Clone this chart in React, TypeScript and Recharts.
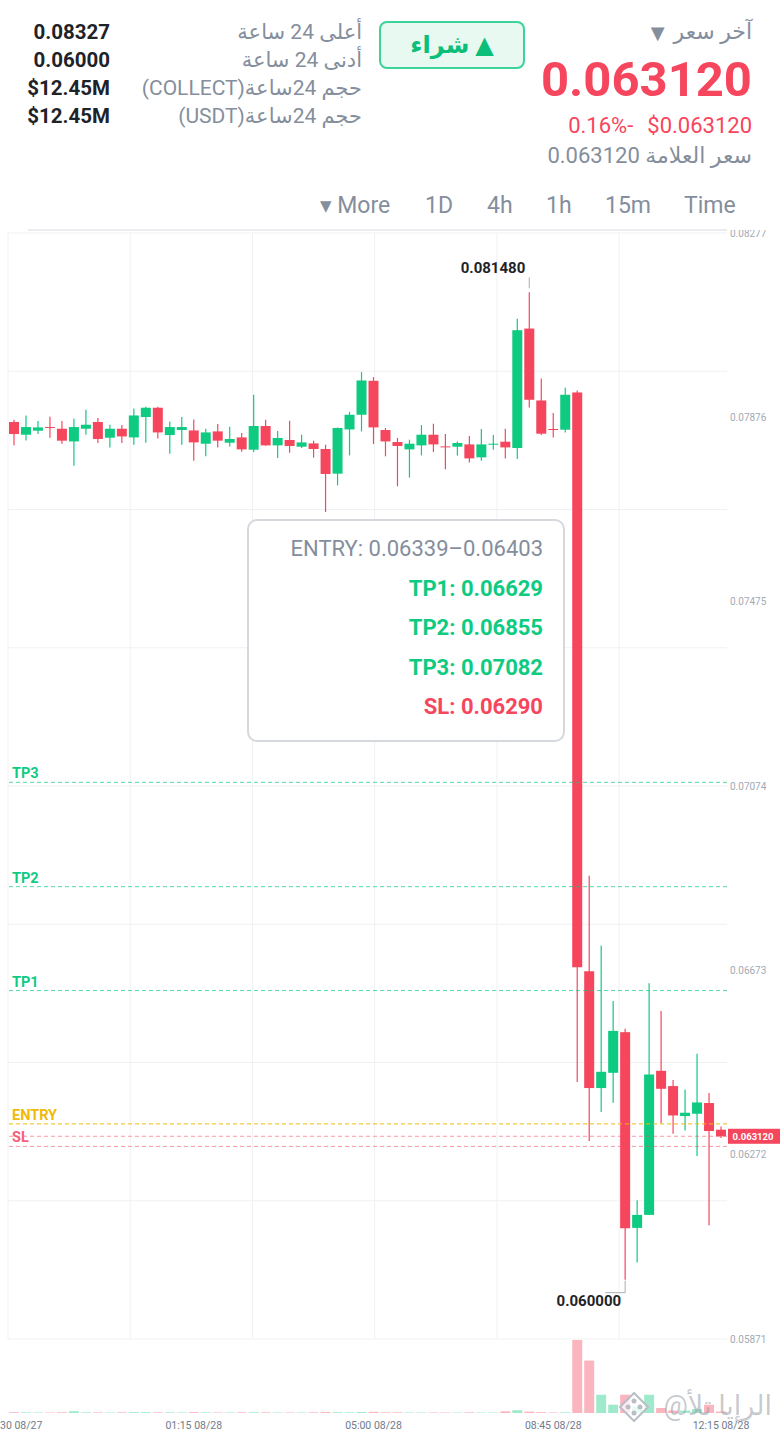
import React from "react";
import {
  ComposedChart,
  BarChart,
  Bar,
  XAxis,
  YAxis,
  CartesianGrid,
  ReferenceLine,
  ReferenceDot,
  Cell,
} from "recharts";

const GREEN = "#0ecb81";
const RED = "#f6465d";
const GRAY = "#848e9c";
const DARK = "#1e2329";
const FONT = "Roboto, 'DejaVu Sans', sans-serif";

// 15m candles, 21:30 08/27 -> 12:15 08/28
const times = [
  "21:30 08/27", "21:45 08/27", "22:00 08/27", "22:15 08/27", "22:30 08/27", "22:45 08/27",
  "23:00 08/27", "23:15 08/27", "23:30 08/27", "23:45 08/27", "00:00 08/28", "00:15 08/28",
  "00:30 08/28", "00:45 08/28", "01:00 08/28", "01:15 08/28", "01:30 08/28", "01:45 08/28",
  "02:00 08/28", "02:15 08/28", "02:30 08/28", "02:45 08/28", "03:00 08/28", "03:15 08/28",
  "03:30 08/28", "03:45 08/28", "04:00 08/28", "04:15 08/28", "04:30 08/28", "04:45 08/28",
  "05:00 08/28", "05:15 08/28", "05:30 08/28", "05:45 08/28", "06:00 08/28", "06:15 08/28",
  "06:30 08/28", "06:45 08/28", "07:00 08/28", "07:15 08/28", "07:30 08/28", "07:45 08/28",
  "08:00 08/28", "08:15 08/28", "08:30 08/28", "08:45 08/28", "09:00 08/28", "09:15 08/28",
  "09:30 08/28", "09:45 08/28", "10:00 08/28", "10:15 08/28", "10:30 08/28", "10:45 08/28",
  "11:00 08/28", "11:15 08/28", "11:30 08/28", "11:45 08/28", "12:00 08/28", "12:15 08/28",
];

const opens = [
  0.078658, 0.078382, 0.078469, 0.078549, 0.078512, 0.078236, 0.078512, 0.078658, 0.078317, 0.078512,
  0.078323, 0.078767, 0.078969, 0.078375, 0.078484, 0.078475, 0.078186, 0.078454, 0.078208, 0.078323,
  0.078056, 0.078571, 0.07815, 0.078267, 0.078121, 0.078193, 0.078071, 0.077535, 0.078497, 0.078816,
  0.079555, 0.078484, 0.078223, 0.078063, 0.07815, 0.078382, 0.078128, 0.078121, 0.078171, 0.077889,
  0.078171, 0.07823, 0.078093, 0.080691, 0.079127, 0.078506, 0.078491, 0.079301, 0.06671, 0.064169,
  0.064501, 0.065385, 0.061127, 0.06141, 0.064544, 0.064212, 0.06356, 0.06361, 0.063843, 0.063263,
];
const highs = [
  0.078708, 0.078801, 0.07868, 0.078773, 0.07868, 0.07873, 0.078925, 0.078745, 0.078599, 0.078593,
  0.078953, 0.07899, 0.07899, 0.078671, 0.078767, 0.078714, 0.078512, 0.078614, 0.078556, 0.078419,
  0.079251, 0.078708, 0.078462, 0.078686, 0.078382, 0.078252, 0.078165, 0.078541, 0.078875, 0.079744,
  0.079635, 0.078528, 0.07831, 0.078273, 0.078593, 0.078621, 0.078397, 0.078236, 0.078354, 0.078506,
  0.078375, 0.078512, 0.080902, 0.08148, 0.079605, 0.078853, 0.079403, 0.079344, 0.068787, 0.067266,
  0.066065, 0.065457, 0.061727, 0.06645, 0.065848, 0.064342, 0.064138, 0.064914, 0.06406, 0.063334,
];
const lows = [
  0.07815, 0.078258, 0.078397, 0.078317, 0.078186, 0.077709, 0.078382, 0.078202, 0.078106, 0.078202,
  0.078165, 0.078208, 0.078302, 0.077969, 0.078165, 0.077817, 0.077911, 0.078106, 0.078128, 0.078013,
  0.078006, 0.078143, 0.077876, 0.077991, 0.078093, 0.077882, 0.0767, 0.077281, 0.077932, 0.078454,
  0.07818, 0.077911, 0.077259, 0.077448, 0.077932, 0.078006, 0.077628, 0.077932, 0.07778, 0.077817,
  0.078056, 0.077867, 0.077854, 0.078975, 0.078375, 0.078323, 0.078432, 0.064299, 0.063017, 0.063647,
  0.063849, 0.06, 0.060374, 0.061405, 0.063408, 0.063176, 0.063248, 0.062691, 0.061184, 0.063083,
];
const closes = [
  0.078397, 0.078549, 0.078541, 0.078528, 0.078252, 0.078549, 0.078599, 0.078289, 0.078512, 0.078345,
  0.078801, 0.078969, 0.078432, 0.078549, 0.078549, 0.078215, 0.078432, 0.078252, 0.078289, 0.078063,
  0.078571, 0.07815, 0.07831, 0.078137, 0.078215, 0.078071, 0.077528, 0.078528, 0.078816, 0.079562,
  0.078541, 0.078236, 0.078137, 0.078186, 0.078382, 0.078171, 0.078115, 0.078202, 0.077867, 0.078171,
  0.078186, 0.078106, 0.080656, 0.079142, 0.078404, 0.078491, 0.079251, 0.066797, 0.064169, 0.064523,
  0.065413, 0.061119, 0.06141, 0.064464, 0.064153, 0.063573, 0.063632, 0.063856, 0.063235, 0.06312,
];
// volume, millions of COLLECT
const volumes = [
  0.5, 0.4, 0.3, 0.3, 0.5, 1.1, 0.4, 0.4, 0.3, 0.4,
  0.5, 0.5, 0.4, 0.4, 0.3, 0.5, 0.4, 0.3, 0.3, 0.4,
  0.5, 0.4, 0.3, 0.3, 0.3, 0.4, 0.6, 0.5, 0.4, 0.6,
  0.7, 0.4, 0.4, 0.3, 0.3, 0.3, 0.3, 0.3, 0.4, 0.3,
  0.3, 1.0, 1.7, 0.8, 0.5, 0.3, 0.4, 44.0, 31.6, 11.0,
  5.0, 11.0, 4.0, 11.0, 3.0, 1.5, 1.5, 2.4, 5.0, 0.9,
];

const priceTicks = [0.05871, 0.06272, 0.06673, 0.07074, 0.07475, 0.07876, 0.08277];
const timeTicks = ["21:30 08/27", "01:15 08/28", "05:00 08/28", "08:45 08/28", "12:15 08/28"];
const gridCols = [0, 0.17, 0.34, 0.51, 0.68, 0.85];
const gridRows = [0, 0.125, 0.25, 0.375, 0.5, 0.625, 0.75, 0.875, 1];

const entryRange = [0.06339, 0.06403];
const targets = [0.06629, 0.06855, 0.07082];
const stopLoss = 0.0629;
const lastPrice = 0.06312;
const changePct = "0.16%-";

const statLabels = ["أعلى 24 ساعة", "أدنى 24 ساعة", "حجم 24ساعة(COLLECT)", "حجم 24ساعة(USDT)"];
const statValues = ["0.08327", "0.06000", "$12.45M", "$12.45M"];
const tabs = [
  { label: "▾ More", x: 320 },
  { label: "1D", x: 425 },
  { label: "4h", x: 487 },
  { label: "1h", x: 546 },
  { label: "15m", x: 605 },
  { label: "Time", x: 684 },
];

const candles = times.map((t, i) => ({
  t,
  o: opens[i],
  h: highs[i],
  l: lows[i],
  c: closes[i],
  v: volumes[i],
}));
const peakIdx = highs.indexOf(Math.max(...highs));
const troughIdx = lows.indexOf(Math.min(...lows));

function Candle(props: any) {
  const { x, y, width, height, payload } = props;
  const { o, h, l, c } = payload;
  const color = c >= o ? GREEN : RED;
  const top = Math.min(y, y + height);
  const span = Math.abs(height);
  const py = (p: number) => (h === l ? top : top + ((h - p) / (h - l)) * span);
  const bodyTop = py(Math.max(o, c));
  const bodyH = Math.max(1, py(Math.min(o, c)) - bodyTop);
  const cx = x + width / 2;
  return (
    <g>
      <line x1={cx} x2={cx} y1={top} y2={top + span} stroke={color} strokeWidth={1.2} />
      <rect x={x} y={bodyTop} width={width} height={bodyH} fill={color} />
    </g>
  );
}

function PriceTag(props: any) {
  const vb = props.viewBox || {};
  const left = vb.x + vb.width + 1;
  return (
    <g>
      <rect x={left} y={vb.y - 7.5} width={52} height={15} fill={RED} />
      <text x={left + 25} y={vb.y + 3.5} textAnchor="middle" fill="#fff" fontSize={9.5} fontWeight={700}>
        {lastPrice.toFixed(6)}
      </text>
    </g>
  );
}

function PeakMark(props: any) {
  const { cx, cy } = props;
  return (
    <g>
      <line x1={cx} x2={cx} y1={cy - 15} y2={cy - 4} stroke="#a9aeb6" strokeWidth={1} />
      <text x={cx - 4} y={cy - 19} textAnchor="end" fontSize={15} fontWeight={700} fill={DARK}>
        {highs[peakIdx].toFixed(6)}
      </text>
    </g>
  );
}

function TroughMark(props: any) {
  const { cx, cy } = props;
  return (
    <g>
      <path d={`M${cx},${cy + 1} V${cy + 13} H${cx - 20}`} stroke="#a9aeb6" strokeWidth={1} fill="none" />
      <text x={cx - 4} y={cy + 26} textAnchor="end" fontSize={15} fontWeight={700} fill={DARK}>
        {lows[troughIdx].toFixed(6)}
      </text>
    </g>
  );
}

const levelLabel = (value: string, fill: string) => ({
  value,
  position: "insideBottomLeft" as const,
  offset: 4,
  fill,
  fontSize: 14.5,
  fontWeight: 700,
});

function Txt({ x, y, size, color, weight = 400, anchor = "end", dir, children }: any) {
  const lh = Math.round(size * 1.2);
  const style: React.CSSProperties = {
    position: "absolute",
    top: y - lh / 2,
    fontSize: size,
    lineHeight: `${lh}px`,
    color,
    fontWeight: weight,
    whiteSpace: "nowrap",
  };
  if (anchor === "end") style.right = 780 - x;
  else style.left = x;
  return (
    <div dir={dir} style={style}>
      {children}
    </div>
  );
}

export default function App() {
  return (
    <div
      style={{
        position: "absolute",
        left: 0,
        top: 0,
        width: 780,
        height: 1432,
        background: "#fff",
        fontFamily: FONT,
        overflow: "hidden",
      }}
    >
      {/* header */}
      <Txt x={752} y={32} size={22} color={GRAY} dir="rtl">
        آخر سعر<span style={{ marginRight: 9, fontSize: 18 }}>▼</span>
      </Txt>
      <Txt x={752} y={79} size={49} color={RED} weight={700}>{lastPrice.toFixed(6)}</Txt>
      <Txt x={752} y={126} size={22} color={RED}>
        <span>{changePct}</span>
        <span style={{ marginLeft: 14 }}>${lastPrice.toFixed(6)}</span>
      </Txt>
      <Txt x={752} y={156} size={22} color={GRAY} dir="rtl">سعر العلامة {lastPrice.toFixed(6)}</Txt>

      <div
        style={{
          position: "absolute",
          left: 379,
          top: 21,
          width: 146,
          height: 48,
          boxSizing: "border-box",
          border: "2px solid #3bd39a",
          background: "#e8f9f1",
          borderRadius: 8,
          display: "flex",
          alignItems: "center",
          justifyContent: "center",
          color: "#0bbf78",
          fontSize: 24,
          fontWeight: 700,
        }}
        dir="rtl"
      >
        ▲ شراء
      </div>

      {statLabels.map((s, i) => (
        <Txt key={s} x={362} y={32 + i * 28.3} size={21} color={GRAY} dir="rtl">{s}</Txt>
      ))}
      {statValues.map((s, i) => (
        <Txt key={i} x={110} y={32 + i * 28.3} size={20.5} color={DARK} weight={700}>{s}</Txt>
      ))}

      {tabs.map((t) => (
        <Txt key={t.label} x={t.x} y={206} size={23} color={GRAY} anchor="start">{t.label}</Txt>
      ))}
      <div style={{ position: "absolute", left: 28, top: 229, width: 699, height: 2, background: "#eaecef" }} />

      {/* price pane */}
      <div style={{ position: "absolute", left: 0, top: 230, width: 780, height: 1120, overflow: "hidden" }}>
        <ComposedChart width={780} height={1120} data={candles} margin={{ top: 3, right: 0, bottom: 11, left: 8 }}>
          <CartesianGrid
            stroke="#f0f1f3"
            verticalCoordinatesGenerator={(a: any) => {
              const o = a.offset || { left: 8, width: 719 };
              return gridCols.map((f) => o.left + f * o.width);
            }}
            horizontalCoordinatesGenerator={(a: any) => {
              const o = a.offset || { top: 3, height: 1106 };
              return gridRows.map((f) => o.top + f * o.height);
            }}
          />
          <XAxis dataKey="t" hide />
          <YAxis
            orientation="right"
            width={53}
            domain={[priceTicks[0], priceTicks[priceTicks.length - 1]]}
            allowDataOverflow
            ticks={priceTicks}
            interval={0}
            tickFormatter={(v: number) => v.toFixed(5)}
            tick={{ fill: "#a3aab5", fontSize: 10 }}
            tickSize={0}
            tickMargin={3}
            axisLine={false}
            tickLine={false}
          />
          <Bar
            dataKey={(d: any) => [d.l, d.h]}
            barSize={10}
            shape={<Candle />}
            isAnimationActive={false}
          />
          <ReferenceLine y={targets[2]} stroke={GREEN} strokeOpacity={0.7} strokeDasharray="4 3" label={levelLabel("TP3", GREEN)} />
          <ReferenceLine y={targets[1]} stroke={GREEN} strokeOpacity={0.7} strokeDasharray="4 3" label={levelLabel("TP2", GREEN)} />
          <ReferenceLine y={targets[0]} stroke={GREEN} strokeOpacity={0.7} strokeDasharray="4 3" label={levelLabel("TP1", GREEN)} />
          <ReferenceLine y={entryRange[0]} stroke="#f0b90b" strokeDasharray="4 3" label={levelLabel("ENTRY", "#f0b90b")} />
          <ReferenceLine y={lastPrice} stroke={RED} strokeOpacity={0.55} strokeDasharray="4 3" label={<PriceTag />} />
          <ReferenceLine y={stopLoss} stroke={RED} strokeOpacity={0.55} strokeDasharray="4 3" label={levelLabel("SL", "#f4607a")} />
          <ReferenceDot x={times[peakIdx]} y={highs[peakIdx]} r={0} shape={(p: any) => <PeakMark {...p} />} />
          <ReferenceDot x={times[troughIdx]} y={lows[troughIdx]} r={0} shape={(p: any) => <TroughMark {...p} />} />
        </ComposedChart>
      </div>

      {/* volume pane */}
      <div style={{ position: "absolute", left: 0, top: 1339, width: 780, height: 93 }}>
        <BarChart width={780} height={93} data={candles} margin={{ top: 1, right: 53, bottom: 0, left: 8 }}>
          <XAxis
            dataKey="t"
            ticks={timeTicks}
            interval={0}
            height={19}
            tickSize={0}
            tickMargin={9}
            axisLine={false}
            tickLine={false}
            tick={{ fill: "#707a8a", fontSize: 10.5 }}
          />
          <YAxis hide domain={[0, "dataMax"]} />
          <Bar dataKey="v" barSize={10} isAnimationActive={false}>
            {candles.map((d, i) => (
              <Cell key={i} fill={d.c >= d.o ? "#9feacd" : "#fbb5be"} />
            ))}
          </Bar>
        </BarChart>
      </div>

      {/* tooltip box */}
      <div
        style={{
          position: "absolute",
          left: 247,
          top: 519,
          width: 318,
          height: 223,
          boxSizing: "border-box",
          border: "2px solid #d5d8dc",
          borderRadius: 10,
          background: "#fff",
        }}
      >
        {[
          { text: `ENTRY: ${entryRange[0].toFixed(5)}–${entryRange[1].toFixed(5)}`, color: GRAY, w: 400 },
          { text: `TP1: ${targets[0].toFixed(5)}`, color: GREEN, w: 700 },
          { text: `TP2: ${targets[1].toFixed(5)}`, color: GREEN, w: 700 },
          { text: `TP3: ${targets[2].toFixed(5)}`, color: GREEN, w: 700 },
          { text: `SL: ${stopLoss.toFixed(5)}`, color: RED, w: 700 },
        ].map((r, i) => (
          <div
            key={i}
            style={{
              position: "absolute",
              right: 20,
              top: 28 + i * 39.5 - 13,
              fontSize: 22,
              lineHeight: "26px",
              color: r.color,
              fontWeight: r.w,
              whiteSpace: "nowrap",
            }}
          >
            {r.text}
          </div>
        ))}
      </div>

      {/* watermark */}
      <svg style={{ position: "absolute", left: 619, top: 1392 }} width={30} height={30}>
        <polygon points="15,1 29,15 15,29 1,15" fill="rgba(255,255,255,0.75)" stroke="#b9bec6" strokeWidth={2} />
        <circle cx={15} cy={9} r={2.5} fill="#b9bec6" />
        <circle cx={9} cy={15} r={2.5} fill="#b9bec6" />
        <circle cx={21} cy={15} r={2.5} fill="#b9bec6" />
        <circle cx={15} cy={21} r={2.5} fill="#b9bec6" />
      </svg>
      <Txt x={772} y={1406} size={27} color="rgba(150,156,166,0.55)" dir="rtl">الرإيا تلأ@</Txt>
    </div>
  );
}
